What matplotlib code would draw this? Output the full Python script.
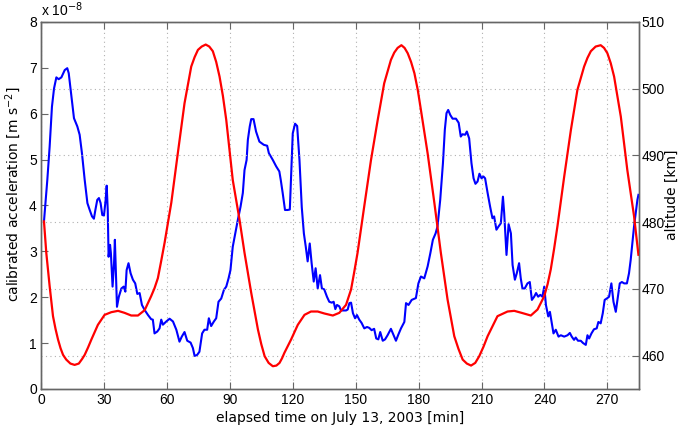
import matplotlib.pyplot as plt

# elapsed time [min] and calibrated acceleration [1e-8 m s^-2]
t_acc = [1.4, 3.0, 4.1, 5.2, 6.2, 7.3, 8.4, 9.7, 11.3, 12.5, 13.2, 14.5, 15.7, 17.3, 18.4,
         19.5, 20.8, 22.1, 23.2, 24.3, 25.2, 25.9, 26.8, 27.6, 28.4, 29.2, 30.0, 30.8, 31.3,
         31.8, 32.2, 32.9, 33.3, 34.1, 34.8, 35.2, 35.7, 36.2, 37.1, 38.3, 39.4, 40.2, 40.8,
         41.7, 42.7, 43.8, 44.9, 45.9, 47.0, 48.1, 49.4, 51.0, 52.5, 53.3, 54.1, 55.4, 56.5,
         57.3, 58.1, 59.7, 61.3, 62.9, 64.5, 66.0, 67.1, 68.4, 69.7, 71.3, 72.4, 73.2, 74.4,
         75.5, 76.8, 77.9, 79.2, 80.0, 81.1, 82.4, 83.5, 84.6, 85.9, 87.2, 88.3, 89.4, 90.3,
         91.4, 92.6, 93.8, 95.1, 96.2, 97.0, 98.0, 98.6, 99.5, 100.2, 101.3, 102.5, 104.1,
         106.2, 107.8, 108.6, 110.5, 112.1, 113.6, 114.3, 115.2, 116.3, 117.6, 118.6, 119.2,
         120.0, 121.1, 122.1, 123.2, 124.3, 125.3, 126.2, 127.1, 128.1, 129.0, 130.0, 130.9,
         131.9, 133.0, 133.9, 135.0, 136.3, 137.4, 138.6, 139.5, 140.3, 141.1, 142.2, 143.0,
         144.3, 145.4, 146.2, 147.0, 147.8, 148.7, 149.7, 150.6, 151.7, 152.8, 154.1, 155.4,
         156.5, 157.6, 158.8, 159.8, 160.8, 161.7, 162.9, 164.0, 165.2, 166.8, 168.1, 169.2,
         170.3, 171.6, 173.2, 174.0, 175.2, 176.7, 178.7, 179.9, 181.1, 182.7, 184.3, 185.6,
         186.8, 188.1, 189.0, 190.3, 191.6, 192.5, 193.3, 194.1, 195.1, 196.2, 197.8, 199.1,
         200.1, 200.9, 202.2, 203.0, 204.1, 205.2, 206.2, 207.1, 208.1, 209.0, 210.0, 210.9,
         211.7, 212.9, 214.1, 215.2, 216.0, 217.1, 218.1, 219.2, 220.2, 220.8, 221.9, 222.9,
         224.0, 224.8, 225.9, 226.8, 227.9, 228.7, 229.5, 230.6, 231.9, 233.0, 234.0, 235.1,
         236.0, 237.0, 238.0, 239.0, 239.9, 240.7, 241.8, 242.6, 243.2, 244.3, 245.4, 246.7,
         247.8, 249.4, 251.0, 252.1, 253.0, 254.1, 254.9, 256.0, 257.3, 258.4, 259.7, 260.5,
         261.3, 262.4, 263.6, 264.9, 265.7, 266.8, 267.8, 268.7, 270.0, 270.8, 271.9, 272.9,
         274.0, 274.8, 275.9, 276.9, 278.0, 279.3, 280.3, 281.1, 281.9, 282.7, 283.5, 284.3,
         284.8]
acc = [3.65, 4.56, 5.28, 6.15, 6.55, 6.79, 6.75, 6.79, 6.95, 6.99, 6.88, 6.37, 5.90, 5.72, 5.54,
       5.14, 4.56, 4.05, 3.90, 3.76, 3.71, 3.90, 4.12, 4.16, 4.05, 3.79, 3.78, 4.12, 4.43,
       3.90, 2.88, 3.14, 2.96, 2.23, 2.74, 3.25, 2.52, 1.79, 2.01, 2.19, 2.23, 2.12, 2.59,
       2.74, 2.52, 2.38, 2.30, 2.07, 2.09, 1.83, 1.72, 1.61, 1.52, 1.51, 1.21, 1.25, 1.32,
       1.51, 1.40, 1.47, 1.53, 1.47, 1.29, 1.03, 1.14, 1.24, 1.05, 1.01, 0.89, 0.72, 0.74,
       0.81, 1.21, 1.29, 1.29, 1.54, 1.37, 1.47, 1.54, 1.90, 1.97, 2.16, 2.23, 2.41, 2.59,
       3.10, 3.39, 3.68, 3.97, 4.27, 4.77, 4.99, 5.43, 5.72, 5.88, 5.88, 5.61, 5.39,
       5.32, 5.30, 5.14, 4.99, 4.85, 4.74, 4.55, 4.27, 3.90, 3.90, 3.91, 4.64,
       5.57, 5.78, 5.73, 4.99, 3.96, 3.39, 3.10, 2.78, 3.17, 2.74, 2.34, 2.63,
       2.19, 2.48, 2.19, 2.17, 2.01, 1.90, 1.88, 1.90, 1.74, 1.83, 1.80, 1.71,
       1.71, 1.71, 1.73, 1.87, 1.88, 1.65, 1.54, 1.61, 1.51, 1.44, 1.32, 1.35,
       1.33, 1.28, 1.31, 1.10, 1.08, 1.24, 1.05, 1.08, 1.17, 1.31, 1.17, 1.05,
       1.18, 1.32, 1.46, 1.87, 1.83, 1.94, 1.98, 2.30, 2.45, 2.41, 2.67, 2.96,
       3.25, 3.39, 3.54, 4.12, 4.92, 5.65, 6.01, 6.08, 5.97, 5.89, 5.89, 5.80,
       5.50, 5.55, 5.54, 5.61, 5.46, 4.92, 4.59, 4.47, 4.52, 4.69, 4.59, 4.63,
       4.59, 4.27, 3.97, 3.72, 3.76, 3.47, 3.54, 3.61, 4.19, 3.83, 2.92, 3.59,
       3.39, 2.70, 2.38, 2.52, 2.74, 2.41, 2.19, 2.19, 2.30, 2.33, 1.94, 2.01,
       2.09, 2.01, 2.05, 2.01, 2.23, 1.83, 1.58, 1.68, 1.51, 1.21, 1.29, 1.14,
       1.17, 1.14, 1.17, 1.22, 1.14, 1.07, 1.12, 1.05, 1.05, 1.00, 0.96, 1.17,
       1.10, 1.21, 1.30, 1.32, 1.46, 1.43, 1.65, 1.94, 1.98, 2.01, 2.30, 1.90,
       1.68, 1.94, 2.30, 2.33, 2.30, 2.30, 2.52, 2.81, 3.17, 3.54, 3.83, 4.12,
       4.23]

# elapsed time [min] and altitude [km]
t_alt = [1.4, 2.5, 4.1, 5.7, 6.9, 8.1, 9.3, 10.5, 12.0, 14.0, 16.0, 18.0, 19.6, 20.8, 22.4,
         24.0, 27.1, 30.3, 33.5, 36.7, 39.8, 43.0, 46.2, 49.4, 52.5, 54.1, 55.7, 57.3, 58.9,
         62.1, 65.2, 68.4, 71.6, 73.2, 74.8, 76.6, 78.5, 80.2, 81.9, 83.5, 85.1, 86.7, 88.3,
         91.4, 94.6, 97.0, 100.2, 103.4, 105.0, 106.6, 108.5, 110.5, 112.2, 113.7, 114.9,
         116.0, 117.6, 119.2, 122.4, 125.6, 128.7, 131.9, 135.1, 139.1, 142.2, 145.4, 147.8,
         149.3, 150.9, 154.1, 157.3, 160.5, 163.6, 166.8, 168.4, 170.0, 171.8, 173.3, 174.8,
         176.4, 178.0, 179.6, 181.1, 184.3, 187.5, 190.6, 193.8, 197.0, 199.0, 201.0, 203.0,
         205.0, 207.0, 208.9, 210.9, 212.9, 217.6, 222.4, 225.6, 229.1, 233.5, 236.7, 239.9,
         241.5, 243.0, 244.6, 246.2, 249.4, 252.6, 255.7, 258.9, 260.5, 262.1, 264.4, 266.8,
         268.4, 270.0, 271.6, 273.2, 276.4, 279.5, 282.7, 284.8]
alt = [480.1, 475.4, 470.4, 465.9, 464.0, 462.4, 461.1, 460.1, 459.4, 458.8, 458.6, 458.8,
       459.5, 460.1, 461.2, 462.4, 464.6, 466.1, 466.5, 466.7, 466.4, 466.0, 466.0, 466.8,
       468.9, 470.1, 471.6, 474.2, 476.9, 482.9, 490.3, 497.8, 503.3, 504.7, 505.8, 506.3,
       506.6, 506.3, 505.6, 504.0, 501.8, 498.9, 495.3, 486.3, 480.4, 475.4, 469.4, 463.9,
       461.7, 459.9, 458.9, 458.4, 458.5, 458.9, 459.6, 460.4, 461.4, 462.4, 464.6, 466.1,
       466.6, 466.6, 466.3, 466.0, 466.4, 467.6, 469.9, 472.5, 475.4, 482.4, 489.3, 495.3,
       500.8, 504.3, 505.4, 506.1, 506.5, 506.1, 505.3, 504.0, 502.3, 499.8, 496.8, 490.3,
       482.9, 475.4, 468.4, 462.9, 461.0, 459.4, 458.8, 458.5, 458.9, 459.9, 461.3, 462.9,
       465.9, 466.6, 466.7, 466.4, 466.0, 466.9, 468.9, 470.7, 472.9, 476.0, 479.4, 486.8,
       493.8, 499.8, 503.3, 504.6, 505.6, 506.3, 506.5, 506.1, 505.3, 503.8, 501.8, 495.8,
       487.8, 480.9, 475.1]

x_ticks = list(range(0, 271, 30))
acc_ticks = list(range(0, 9))
alt_ticks = list(range(460, 511, 10))

TICK_FONT = 'Liberation Sans'
SPINE = '#666666'


def style_axis(ax):
    for s in ax.spines.values():
        s.set_color(SPINE)
        s.set_linewidth(1.0)
    ax.tick_params(direction='in', length=5, width=0.8, color=SPINE,
                   labelsize=10, pad=3)
    for lab in ax.get_xticklabels() + ax.get_yticklabels():
        lab.set_fontfamily(TICK_FONT)


def main():
    fig = plt.figure(figsize=(6.84, 4.37), dpi=100)
    ax = fig.add_axes([0.060, 0.110, 0.874, 0.840])
    ax2 = ax.twinx()

    ax.plot(t_acc, acc, color='#0000ff', lw=1.5, zorder=3)
    ax2.plot(t_alt, alt, color='#ff0000', lw=1.6, zorder=3,
             solid_joinstyle='round')

    ax.set_xlim(0, 285)
    ax.set_ylim(0, 8)
    ax2.set_ylim(455, 510)
    ax.set_xticks(x_ticks)
    ax.set_yticks(acc_ticks)
    ax2.set_yticks(alt_ticks)

    ax.tick_params(axis='x', top=True)
    ax2.xaxis.grid(False)
    ax.xaxis.grid(True, linestyle=(0, (1, 3)), color='#b0b0b0', lw=0.8)
    ax2.yaxis.grid(True, linestyle=(0, (1, 3)), color='#b0b0b0', lw=0.8)
    ax.set_axisbelow(True)
    ax2.set_axisbelow(True)

    style_axis(ax)
    style_axis(ax2)
    ax2.tick_params(axis='y', pad=2)

    ax.set_xlabel('elapsed time on July 13, 2003 [min]', fontsize=10, labelpad=3)
    ax.set_ylabel(r'calibrated acceleration [m s$^{-2}$]', fontsize=10, labelpad=4)
    ax2.set_ylabel('altitude [km]', fontsize=10, labelpad=0)
    ax.yaxis.label.set_y(0.53)
    ax2.yaxis.label.set_y(0.53)
    ax.text(0.0, 1.008, r'x 10$^{-8}$', transform=ax.transAxes, ha='left',
            va='bottom', fontsize=10, family=TICK_FONT)

    fig.savefig('out.png', dpi=100)


if __name__ == "__main__":
    main()
